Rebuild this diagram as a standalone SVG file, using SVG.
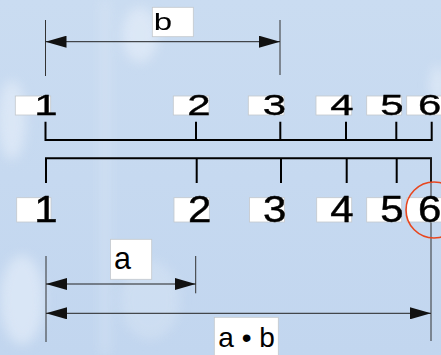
<svg xmlns="http://www.w3.org/2000/svg" width="441" height="355" viewBox="0 0 441 355">
<defs>
<linearGradient id="bg" x1="0" y1="0" x2="0" y2="1">
<stop offset="0" stop-color="#cadcf1"/>
<stop offset="1" stop-color="#c2d6ef"/>
</linearGradient>
<filter id="blur" x="-50%" y="-50%" width="200%" height="200%"><feGaussianBlur stdDeviation="6"/></filter>
<marker id="arr" markerUnits="userSpaceOnUse" markerWidth="22" markerHeight="12" refX="21" refY="6" orient="auto-start-reverse">
<path d="M0,0 L21,6 L0,12 Z" fill="#111"/>
</marker>
<style>
.box{fill:#fff;stroke:#c4c8cc;stroke-width:0.8}
.dig{font-family:"Liberation Sans",Arial,sans-serif;font-size:42px;fill:#000;stroke:#000;stroke-width:0.5;text-anchor:middle}
.lbl{font-family:"Liberation Sans",Arial,sans-serif;fill:#000}
.scale{fill:none;stroke:#000;stroke-width:2}
.dim{fill:none;stroke:#222;stroke-width:1}
.ext{fill:none;stroke:#333;stroke-width:1}
</style>
</defs>
<g id="background">
<rect width="441" height="355" fill="url(#bg)"/>
<g filter="url(#blur)" fill="#e8f0fa" opacity="0.6">
<ellipse cx="140" cy="35" rx="18" ry="28"/>
<ellipse cx="12" cy="120" rx="14" ry="40"/>
<ellipse cx="22" cy="300" rx="22" ry="45"/>
<rect x="100" y="0" width="10" height="355" opacity="0.5"/>
<ellipse cx="150" cy="300" rx="30" ry="40" opacity="0.5"/>
<ellipse cx="438" cy="85" rx="8" ry="20"/>
</g>
</g>
<g id="connectors">
<path class="scale" d="M45.5,121.7 V140 H431.7 V121.7 M196,121.7 V140 M280.3,121.7 V140 M346,121.7 V140 M396.3,121.7 V140"/>
<path class="scale" d="M46,183 V158.3 H431 V183 M196.7,158.3 V183 M281,158.3 V183 M346.7,158.3 V183 M396.7,158.3 V183"/>
<path class="ext" d="M45.5,20 V76 M280,20 V75 M46,256 V342 M195.7,256 V293.3 M431,158 V341"/>
<line class="dim" x1="45.5" y1="41.7" x2="280" y2="41.7" marker-start="url(#arr)" marker-end="url(#arr)"/>
<line class="dim" x1="46" y1="284" x2="195.7" y2="284" marker-start="url(#arr)" marker-end="url(#arr)"/>
<line class="dim" x1="46" y1="313.3" x2="431" y2="313.3" marker-start="url(#arr)" marker-end="url(#arr)"/>
</g>
<g id="top-labels">
<rect class="box" x="15.3" y="96" width="35.4" height="19"/>
<rect class="box" x="173.3" y="96" width="35.7" height="19"/>
<rect class="box" x="248.3" y="96" width="35.7" height="19"/>
<rect class="box" x="316" y="96" width="35.7" height="19"/>
<rect class="box" x="366.7" y="96" width="35" height="19"/>
<rect class="box" x="406.7" y="96" width="36" height="19"/>
<text class="dig" transform="translate(46,115) scale(1,0.7)">1</text>
<text class="dig" transform="translate(199,115) scale(1,0.7)">2</text>
<text class="dig" transform="translate(274.5,115) scale(1,0.7)">3</text>
<text class="dig" transform="translate(342,115) scale(1,0.7)">4</text>
<text class="dig" transform="translate(392,115) scale(1,0.7)">5</text>
<text class="dig" transform="translate(429.8,115) scale(1,0.7)">6</text>
</g>
<g id="bottom-labels">
<rect class="box" x="16.7" y="197.7" width="34.3" height="24.3"/>
<rect class="box" x="174" y="197.7" width="35.3" height="24.3"/>
<rect class="box" x="249.5" y="197.7" width="35" height="24.3"/>
<rect class="box" x="316.7" y="197.7" width="35" height="24.3"/>
<rect class="box" x="366.7" y="197.7" width="35" height="24.3"/>
<rect class="box" x="406.7" y="197.7" width="36" height="24.3"/>
<text class="dig" transform="translate(46,222) scale(1,0.88)">1</text>
<text class="dig" transform="translate(199.8,222) scale(1,0.88)">2</text>
<text class="dig" transform="translate(274.7,222) scale(1,0.88)">3</text>
<text class="dig" transform="translate(342,222) scale(1,0.88)">4</text>
<text class="dig" transform="translate(392,222) scale(1,0.88)">5</text>
<text class="dig" transform="translate(429.8,222) scale(1,0.88)">6</text>
</g>
<g id="label-b">
<rect class="box" x="152.3" y="7.3" width="41" height="29.4"/>
<text class="lbl" font-size="33" transform="translate(153.8,30.3) scale(1,0.72)">b</text>
</g>
<g id="label-a">
<rect class="box" x="110.5" y="239.3" width="41.2" height="40"/>
<text class="lbl" font-size="30.5" x="113.9" y="269">a</text>
</g>
<g id="label-ab">
<rect class="box" x="214.3" y="317.3" width="64" height="45"/>
<text class="lbl" font-size="28" x="218.3" y="346.5">a • b</text>
</g>
<g id="highlight">
<circle cx="434" cy="210" r="28" fill="none" stroke="#e8461e" stroke-width="1.6"/>
</g>
</svg>
